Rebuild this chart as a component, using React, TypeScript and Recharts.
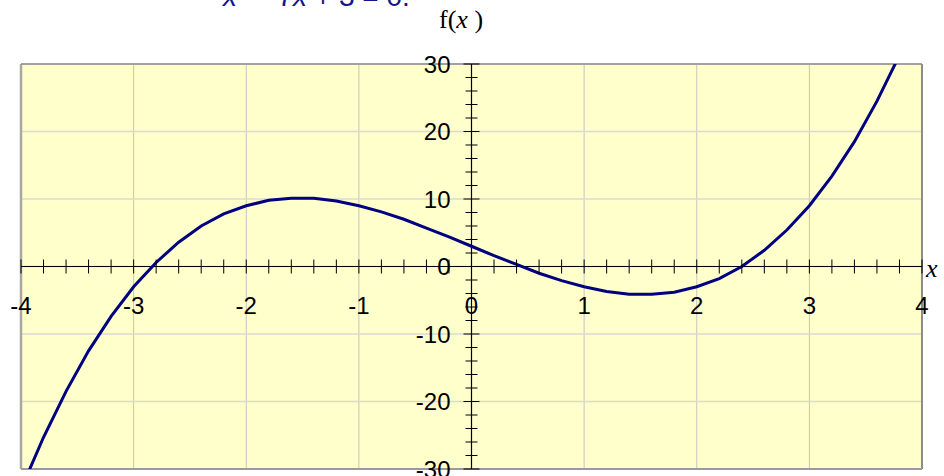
import {
  LineChart,
  Line,
  XAxis,
  YAxis,
  CartesianGrid,
  ReferenceLine,
} from "recharts";

/* ---- data ---- */

const xValues = [
  -4, -3.8, -3.6, -3.4, -3.2, -3, -2.8, -2.6, -2.4, -2.2, -2, -1.8, -1.6, -1.4,
  -1.2, -1, -0.8, -0.6, -0.4, -0.2, 0, 0.2, 0.4, 0.6, 0.8, 1, 1.2, 1.4, 1.6,
  1.8, 2, 2.2, 2.4, 2.6, 2.8, 3, 3.2, 3.4, 3.6, 3.8,
];

const fValues = [
  -33, -25.3, -18.5, -12.5, -7.4, -3, 0.6, 3.6, 6, 7.8, 9, 9.8, 10.1, 10.1,
  9.7, 9, 8.1, 7, 5.7, 4.4, 3, 1.6, 0.3, -1, -2.1, -3, -3.7, -4.1, -4.1,
  -3.8, -3, -1.8, 0, 2.4, 5.4, 9, 13.4, 18.5, 24.5, 31.3,
];

const xLabels = [-4, -3, -2, -1, 0, 1, 2, 3, 4];
const yLabels = [-30, -20, -10, 0, 10, 20, 30];

// minor tick marks: every 0.2 along x, every 2 along y
const xTicks = Array.from({ length: 41 }, (_, i) => Math.round(i * 2 - 40) / 10);
const yTicks = Array.from({ length: 31 }, (_, i) => i * 2 - 30);

const data = xValues.map((x, i) => ({ x, f: fValues[i] }));

/* ---- layout ---- */

const W = 944;
const H = 476;
const MARGIN = { top: 64, right: 22, bottom: 0, left: 0 };
const X_AXIS_H = 7;
const Y_AXIS_W = 21;
const PLOT_W = W - Y_AXIS_W - MARGIN.right;
const PLOT_H = H - MARGIN.top - X_AXIS_H;

const SANS = "'Liberation Sans', Arial, sans-serif";
const SERIF = "'Liberation Serif', 'Times New Roman', serif";

// x axis sits at f = 0, in the middle of the plot
const XTick = (props: any) => {
  const { x, y, payload } = props;
  const v = payload.value;
  const ay = y - PLOT_H / 2;
  return (
    <g>
      <line x1={x} x2={x} y1={ay - 7} y2={ay + 7} stroke="#000" strokeWidth={1} />
      {xLabels.includes(v) && (
        <text x={x} y={ay + 47} textAnchor="middle" fontFamily={SANS} fontSize={24} fill="#000">
          {v}
        </text>
      )}
    </g>
  );
};

// y axis sits at x = 0, in the middle of the plot
const YTick = (props: any) => {
  const { x, y, payload } = props;
  const v = payload.value;
  const ax = x + PLOT_W / 2;
  const major = yLabels.includes(v);
  const half = major ? 8 : 6;
  return (
    <g>
      <line x1={ax - half} x2={ax + half} y1={y} y2={y} stroke="#000" strokeWidth={1} />
      {major && (
        <text x={ax - 21} y={y} dy="0.36em" textAnchor="end" fontFamily={SANS} fontSize={24} fill="#000">
          {v}
        </text>
      )}
    </g>
  );
};

const App = () => {
  return (
    <div style={{ position: "absolute", left: 0, top: 0 }}>
      <svg
        width={W}
        height={H}
        style={{ position: "absolute", left: 0, top: 0, pointerEvents: "none", zIndex: 1 }}
      >
        <text x={223} y={6} fontFamily={SANS} fontSize={28} fill="#14148c">
          <tspan fontStyle="italic">x</tspan>
          <tspan>³ – 7</tspan>
          <tspan fontStyle="italic">x</tspan>
          <tspan> + 3 = 0.</tspan>
        </text>
        <text x={439} y={28} fontFamily={SERIF} fontSize={26} fill="#000">
          f(<tspan fontStyle="italic">x</tspan> )
        </text>
        <text x={926} y={277} fontFamily={SERIF} fontSize={26} fontStyle="italic" fill="#000">
          x
        </text>
      </svg>

      <LineChart width={W} height={H} data={data} margin={MARGIN}>
        <CartesianGrid fill="#FFFFCC" horizontal={false} vertical={false} />

        {xLabels.map((v) => (
          <ReferenceLine key={`gx${v}`} x={v} stroke="#c4c4c4" strokeWidth={1} />
        ))}
        {yLabels.map((v) => (
          <ReferenceLine key={`gy${v}`} y={v} stroke="#dadad0" strokeWidth={1.5} />
        ))}

        {/* plot frame */}
        <ReferenceLine x={-4} stroke="#a8a8a0" strokeWidth={2.5} />
        <ReferenceLine x={4} stroke="#8c8c8c" strokeWidth={2} />
        <ReferenceLine y={30} stroke="#8c8c8c" strokeWidth={1.5} />
        <ReferenceLine y={-30} stroke="#9a9a9a" strokeWidth={2} />

        {/* axes through the origin */}
        <ReferenceLine x={0} stroke="#000" strokeWidth={1.2} />
        <ReferenceLine y={0} stroke="#000" strokeWidth={1.2} />

        <XAxis
          type="number"
          dataKey="x"
          domain={[-4, 4]}
          ticks={xTicks}
          interval={0}
          allowDataOverflow
          height={X_AXIS_H}
          axisLine={false}
          tickLine={false}
          tickSize={0}
          tickMargin={0}
          tick={XTick}
        />
        <YAxis
          type="number"
          domain={[-30, 30]}
          ticks={yTicks}
          interval={0}
          allowDataOverflow
          width={Y_AXIS_W}
          axisLine={false}
          tickLine={false}
          tickSize={0}
          tickMargin={0}
          tick={YTick}
        />

        <Line
          type="linear"
          dataKey="f"
          stroke="#000080"
          strokeWidth={3}
          dot={false}
          isAnimationActive={false}
        />
      </LineChart>
    </div>
  );
};

export default App;
